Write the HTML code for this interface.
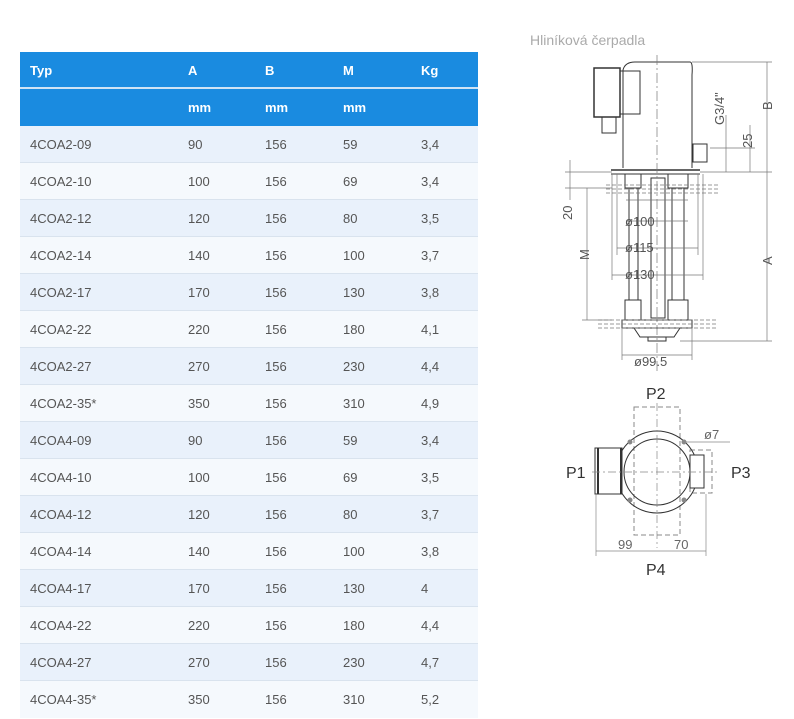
<!DOCTYPE html>
<html><head><meta charset="utf-8"><style>
body{margin:0;width:794px;height:719px;background:#fff;position:relative;overflow:hidden;font-family:"Liberation Sans",sans-serif}
.t{position:absolute;left:20px;top:52px;width:458px}
.r{position:relative;height:37px;border-bottom:1px solid #d9e3ee;box-sizing:border-box;font-size:13px;color:#555}
.r span{position:absolute;top:11px}
.h{background:#1a8be0;color:#fff;font-weight:bold;border-bottom:2px solid #cfe3f5}
.a{background:#e9f1fb}.b{background:#f5f9fd}
.c1{left:10px}.c2{left:168px}.c3{left:245px}.c4{left:323px}.c5{left:401px}
</style></head><body>
<div class="t">
<div class="r h"><span class="c1">Typ</span><span class="c2">A</span><span class="c3">B</span><span class="c4">M</span><span class="c5">Kg</span></div>
<div class="r h" style="border-bottom:none"><span class="c2">mm</span><span class="c3">mm</span><span class="c4">mm</span></div>
<div class="r a"><span class="c1">4COA2-09</span><span class="c2">90</span><span class="c3">156</span><span class="c4">59</span><span class="c5">3,4</span></div>
<div class="r b"><span class="c1">4COA2-10</span><span class="c2">100</span><span class="c3">156</span><span class="c4">69</span><span class="c5">3,4</span></div>
<div class="r a"><span class="c1">4COA2-12</span><span class="c2">120</span><span class="c3">156</span><span class="c4">80</span><span class="c5">3,5</span></div>
<div class="r b"><span class="c1">4COA2-14</span><span class="c2">140</span><span class="c3">156</span><span class="c4">100</span><span class="c5">3,7</span></div>
<div class="r a"><span class="c1">4COA2-17</span><span class="c2">170</span><span class="c3">156</span><span class="c4">130</span><span class="c5">3,8</span></div>
<div class="r b"><span class="c1">4COA2-22</span><span class="c2">220</span><span class="c3">156</span><span class="c4">180</span><span class="c5">4,1</span></div>
<div class="r a"><span class="c1">4COA2-27</span><span class="c2">270</span><span class="c3">156</span><span class="c4">230</span><span class="c5">4,4</span></div>
<div class="r b"><span class="c1">4COA2-35*</span><span class="c2">350</span><span class="c3">156</span><span class="c4">310</span><span class="c5">4,9</span></div>
<div class="r a"><span class="c1">4COA4-09</span><span class="c2">90</span><span class="c3">156</span><span class="c4">59</span><span class="c5">3,4</span></div>
<div class="r b"><span class="c1">4COA4-10</span><span class="c2">100</span><span class="c3">156</span><span class="c4">69</span><span class="c5">3,5</span></div>
<div class="r a"><span class="c1">4COA4-12</span><span class="c2">120</span><span class="c3">156</span><span class="c4">80</span><span class="c5">3,7</span></div>
<div class="r b"><span class="c1">4COA4-14</span><span class="c2">140</span><span class="c3">156</span><span class="c4">100</span><span class="c5">3,8</span></div>
<div class="r a"><span class="c1">4COA4-17</span><span class="c2">170</span><span class="c3">156</span><span class="c4">130</span><span class="c5">4</span></div>
<div class="r b"><span class="c1">4COA4-22</span><span class="c2">220</span><span class="c3">156</span><span class="c4">180</span><span class="c5">4,4</span></div>
<div class="r a"><span class="c1">4COA4-27</span><span class="c2">270</span><span class="c3">156</span><span class="c4">230</span><span class="c5">4,7</span></div>
<div class="r b" style="border:none"><span class="c1">4COA4-35*</span><span class="c2">350</span><span class="c3">156</span><span class="c4">310</span><span class="c5">5,2</span></div>
</div>
<div style="position:absolute;left:530px;top:32px;font-size:14px;color:#aaa">Hliníková čerpadla</div>
<svg width="794" height="719" style="position:absolute;left:0;top:0" font-family="Liberation Sans" fill="none" stroke="#333" stroke-width="1">
<!-- side view -->
<path d="M623 168 V70 Q625 62 635 62 H690 Q693 62 692 75 V168" />
<rect x="594" y="68" width="26" height="49" stroke-width="1.5"/>
<rect x="620" y="71" width="20" height="43"/>
<rect x="602" y="117" width="14" height="16"/>
<rect x="693" y="144" width="14" height="18"/>
<line x1="611" y1="170" x2="700" y2="170" stroke-width="1.5"/>
<line x1="611" y1="174" x2="700" y2="174"/>
<rect x="625" y="174" width="16" height="14"/><rect x="668" y="174" width="20" height="14"/>
<rect x="629" y="188" width="9" height="112"/><rect x="672" y="188" width="12" height="112"/>
<rect x="651" y="178" width="14" height="140"/>
<rect x="625" y="300" width="16" height="20"/><rect x="668" y="300" width="20" height="20"/>
<rect x="622" y="320" width="70" height="8"/>
<path d="M634 328 L640 337 H674 L680 328"/><rect x="648" y="337" width="18" height="4"/>
<g stroke="#777" stroke-width="0.7">
<line x1="657" y1="55" x2="657" y2="372" stroke-dasharray="10 3 2 3"/>
<line x1="606" y1="185" x2="718" y2="185" stroke-dasharray="4 2"/><line x1="606" y1="189" x2="718" y2="189" stroke-dasharray="4 2"/><line x1="606" y1="193" x2="718" y2="193" stroke-dasharray="4 2"/>
<line x1="598" y1="320" x2="718" y2="320" stroke-dasharray="4 2"/><line x1="598" y1="324" x2="718" y2="324" stroke-dasharray="4 2"/><line x1="598" y1="328" x2="718" y2="328" stroke-dasharray="4 2"/>
<line x1="612" y1="174" x2="612" y2="280"/><line x1="703" y1="174" x2="703" y2="280"/>
<line x1="617" y1="174" x2="617" y2="255"/><line x1="698" y1="174" x2="698" y2="255"/>
<line x1="626" y1="200" x2="688" y2="200"/>
<line x1="626" y1="221" x2="688" y2="221"/><line x1="617" y1="248" x2="698" y2="248"/><line x1="612" y1="275" x2="703" y2="275"/>
<line x1="622" y1="355" x2="692" y2="355"/><line x1="622" y1="328" x2="622" y2="360"/><line x1="692" y1="328" x2="692" y2="360"/>
<line x1="767" y1="62" x2="767" y2="341"/><line x1="692" y1="62" x2="772" y2="62"/><line x1="700" y1="172" x2="772" y2="172"/><line x1="680" y1="341" x2="772" y2="341"/>
<line x1="750" y1="125" x2="750" y2="172"/><line x1="710" y1="148" x2="755" y2="148"/>
<line x1="726" y1="115" x2="726" y2="172"/>
<line x1="570" y1="160" x2="570" y2="200"/><line x1="565" y1="172" x2="612" y2="172"/><line x1="565" y1="188" x2="612" y2="188"/>
<line x1="587" y1="188" x2="587" y2="320"/><line x1="582" y1="320" x2="612" y2="320"/>
</g>
<g fill="#555" stroke="none" font-size="13">
<text x="625" y="226">ø100</text><text x="625" y="252">ø115</text><text x="625" y="279">ø130</text><text x="634" y="366">ø99.5</text>
<text transform="translate(772,110) rotate(-90)">B</text>
<text transform="translate(772,265) rotate(-90)">A</text>
<text transform="translate(724,125) rotate(-90)">G3/4"</text>
<text transform="translate(752,148) rotate(-90)">25</text>
<text transform="translate(572,220) rotate(-90)">20</text>
<text transform="translate(589,260) rotate(-90)">M</text>
</g>
<!-- top view -->
<g stroke="#888" stroke-width="1" stroke-dasharray="5 3">
<rect x="634" y="407" width="46" height="128"/><rect x="690" y="450" width="22" height="43"/>
</g>
<circle cx="657" cy="472" r="41"/>
<circle cx="657" cy="472" r="33"/>
<rect x="595" y="448" width="27" height="46" fill="#fff"/>
<line x1="598" y1="448" x2="598" y2="494" stroke-width="2"/><line x1="621" y1="448" x2="621" y2="494" stroke-width="2"/>
<rect x="690" y="455" width="14" height="33" fill="#fff"/>
<g fill="#888" stroke="none"><circle cx="630" cy="442" r="2.5"/><circle cx="684" cy="442" r="2.5"/><circle cx="630" cy="500" r="2.5"/><circle cx="684" cy="500" r="2.5"/></g>
<g stroke="#888" stroke-width="0.7">
<line x1="592" y1="472" x2="718" y2="472" stroke-dasharray="8 3 2 3"/><line x1="657" y1="403" x2="657" y2="548" stroke-dasharray="8 3 2 3"/>
<line x1="684" y1="442" x2="730" y2="442"/>
<line x1="596" y1="551" x2="706" y2="551"/><line x1="596" y1="494" x2="596" y2="556"/><line x1="706" y1="494" x2="706" y2="556"/>
</g>
<g fill="#333" stroke="none" font-size="16">
<text x="646" y="399">P2</text><text x="566" y="478">P1</text><text x="731" y="478">P3</text><text x="646" y="575">P4</text>
</g>
<g fill="#666" stroke="none" font-size="13">
<text x="704" y="439">ø7</text><text x="618" y="549">99</text><text x="674" y="549">70</text>
</g>
</svg>
</body></html>
